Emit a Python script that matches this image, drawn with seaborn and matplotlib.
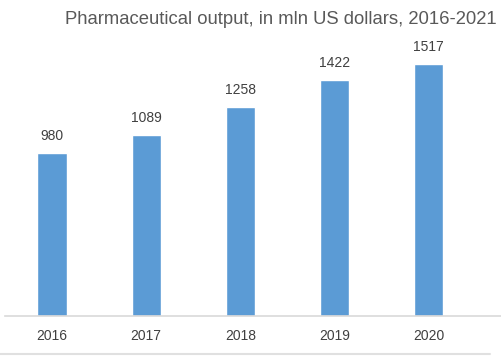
import matplotlib
matplotlib.use("Agg")
import matplotlib.pyplot as plt
import seaborn as sns
import pandas as pd

years = ["2016", "2017", "2018", "2019", "2020"]
output = [980, 1089, 1258, 1422, 1517]
title = "Pharmaceutical output, in mln US dollars, 2016-2021"

sns.set_theme(style="white")
plt.rcParams['font.family'] = ['Liberation Sans', 'DejaVu Sans']

df = pd.DataFrame({"year": years, "value": output})

W, H = 501, 357
fig = plt.figure(figsize=(W/100, H/100), dpi=100)
# axes in pixel coords: left 5, right 501, bottom 316 (from top), top 40
ax = fig.add_axes([5/W, (H-316)/H, (501-5)/W, (316-40)/H])

sns.barplot(data=df, x="year", y="value", color="#5B9BD5", width=0.31,
            saturation=1, ax=ax)

ax.set_xlim(-0.5, 4.77)
ax.set_ylim(0, 1660)
ax.set_xlabel("")
ax.set_ylabel("")
ax.set_yticks([])
for s in ["top", "right", "left"]:
    ax.spines[s].set_visible(False)
ax.spines["bottom"].set_color("#D9D9D9")
ax.spines["bottom"].set_linewidth(1.2)
ax.tick_params(axis="x", length=0, pad=9, labelsize=10, colors="#404040")

for c in ax.containers:
    ax.bar_label(c, labels=[str(v) for v in output], padding=7,
                 fontsize=10, color="#404040")

fig.text(497/W, 1 - 19/H, title, ha="right", va="center",
         fontsize=13.3, color="#595959")

# faint outer frame line at the bottom
fig.add_artist(plt.Line2D([0, 490/W], [1 - 354/H, 1 - 354/H],
                          transform=fig.transFigure, color="#E0E0E0", lw=1.5))

fig.savefig("out.png", dpi=100)
